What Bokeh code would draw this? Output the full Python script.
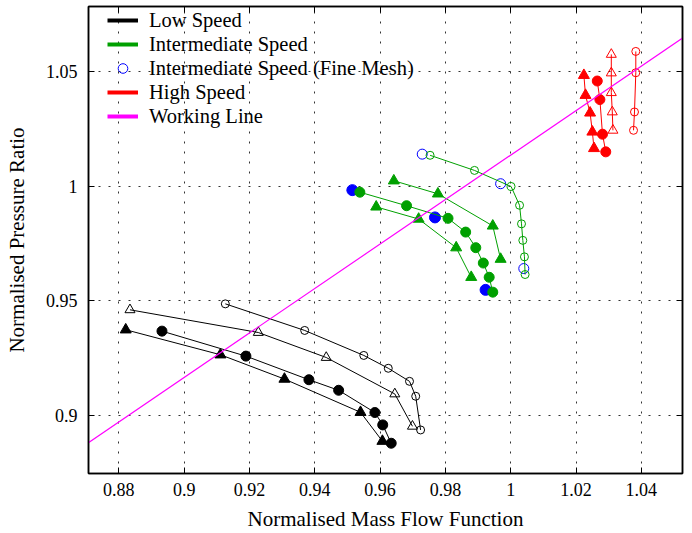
from bokeh.plotting import figure
from bokeh.models import (LinearAxis, FixedTicker, CustomJSTickFormatter, Legend, LegendItem, Range1d)
from bokeh.embed import file_html
from bokeh.resources import INLINE

# ---------------- data ----------------
x_ticks = [0.88, 0.90, 0.92, 0.94, 0.96, 0.98, 1.00, 1.02, 1.04]
y_ticks = [0.90, 0.95, 1.00, 1.05]

# Low speed (black)
low_open_tri_x = [0.8834, 0.9227, 0.9435, 0.9645, 0.9699]
low_open_tri_y = [0.9460, 0.9361, 0.9252, 0.9093, 0.8952]
low_open_circ_x = [0.9126, 0.9369, 0.9550, 0.9625, 0.9690, 0.9709, 0.9724]
low_open_circ_y = [0.9486, 0.9370, 0.9261, 0.9205, 0.9148, 0.9083, 0.8936]
low_tri_x = [0.8821, 0.9111, 0.9307, 0.9540, 0.9607]
low_tri_y = [0.9373, 0.9264, 0.9158, 0.9013, 0.8887]
low_circ_x = [0.8932, 0.9189, 0.9382, 0.9473, 0.9584, 0.9608, 0.9634]
low_circ_y = [0.9367, 0.9258, 0.9155, 0.9109, 0.9012, 0.8958, 0.8878]

# Intermediate speed (green)
mid_open_circ_x = [0.9753, 0.9889, 1.0001, 1.0027, 1.0033, 1.0037, 1.0042, 1.0044]
mid_open_circ_y = [1.0134, 1.0068, 0.9998, 0.9916, 0.9835, 0.9763, 0.9691, 0.9614]
mid_tri_up_x = [0.9642, 0.9777, 0.9945, 0.9969]
mid_tri_up_y = [1.0023, 0.9966, 0.9826, 0.9681]
mid_circ_x = [0.9538, 0.9681, 0.9808, 0.9862, 0.9893, 0.9916, 0.9934, 0.9945]
mid_circ_y = [0.9973, 0.9914, 0.9859, 0.9799, 0.9731, 0.9664, 0.9602, 0.9537]
mid_tri_lo_x = [0.9588, 0.9718, 0.9833, 0.9879]
mid_tri_lo_y = [0.9909, 0.9856, 0.9731, 0.9602]

# Intermediate speed, fine mesh (blue)
fine_open_x = [0.9729, 0.9969, 1.0040]
fine_open_y = [1.0139, 1.0010, 0.9640]
fine_fill_x = [0.9515, 0.9768, 0.9923]
fine_fill_y = [0.9982, 0.9863, 0.9547]

# High speed (red)
high_open_circ_x = [1.0383, 1.0383, 1.0379, 1.0376]
high_open_circ_y = [1.0587, 1.0494, 1.0323, 1.0243]
high_open_tri_x = [1.0308, 1.0308, 1.0308, 1.0311, 1.0313]
high_open_tri_y = [1.0574, 1.0493, 1.0407, 1.0323, 1.0243]
high_tri_x = [1.0224, 1.0229, 1.0243, 1.0250, 1.0255]
high_tri_y = [1.0483, 1.0396, 1.0319, 1.0236, 1.0164]
high_circ_x = [1.0265, 1.0273, 1.0281, 1.0291]
high_circ_y = [1.0458, 1.0377, 1.0226, 1.0149]

# Working line (magenta)
wl_x = [0.86, 1.06]
wl_y = [0.8777, 1.0717]

legend_labels = ["Low Speed", "Intermediate Speed", "Intermediate Speed (Fine Mesh)",
                 "High Speed", "Working Line"]

# ---------------- style ----------------
BLACK = "#000000"
GREEN = "#00a000"
BLUE = "#0000ff"
RED = "#ff0000"
MAGENTA = "#ff00ff"
FONT = "Liberation Serif"
NAN = float("nan")

p = figure(width=692, height=533, output_backend="svg", toolbar_location=None,
           x_range=Range1d(0.8707, 1.0526), y_range=Range1d(0.8746, 1.0783),
           min_border_left=88, min_border_right=10, min_border_top=6, min_border_bottom=59,
           background_fill_color="white", border_fill_color="white")
p.outline_line_color = BLACK
p.outline_line_width = 1.5
p.outline_line_alpha = 1

fmt = CustomJSTickFormatter(code="return String(Math.round(tick*1000)/1000);")
blank = CustomJSTickFormatter(code="return '';")

for ax, ticks in ((p.xaxis[0], x_ticks), (p.yaxis[0], y_ticks)):
    ax.ticker = FixedTicker(ticks=ticks)
    ax.formatter = fmt
    ax.major_tick_in = 6
    ax.major_tick_out = 0
    ax.minor_tick_in = 0
    ax.minor_tick_out = 0
    ax.axis_line_color = BLACK
    ax.axis_line_width = 1.5
    ax.major_tick_line_color = BLACK
    ax.major_label_text_font = FONT
    ax.major_label_text_font_size = "18px"
    ax.major_label_text_color = BLACK
    ax.axis_label_text_font = FONT
    ax.axis_label_text_font_size = "21px"
    ax.axis_label_text_font_style = "normal"
    ax.axis_label_text_color = BLACK

p.xaxis[0].axis_label = "Normalised Mass Flow Function"
p.yaxis[0].axis_label = "Normalised Pressure Ratio"
p.xaxis[0].major_label_standoff = 9
p.xaxis[0].axis_label_standoff = 8
p.yaxis[0].major_label_standoff = 11
p.yaxis[0].axis_label_standoff = 14

for place, ticks in (("above", x_ticks), ("right", y_ticks)):
    ax = LinearAxis(ticker=FixedTicker(ticks=ticks), formatter=blank,
                    major_tick_in=6, major_tick_out=0, minor_tick_in=0, minor_tick_out=0,
                    major_label_standoff=0, major_label_text_font_size="0px",
                    axis_line_color=BLACK, axis_line_width=1.5, major_tick_line_color=BLACK)
    p.add_layout(ax, place)

p.xgrid.ticker = FixedTicker(ticks=x_ticks)
p.ygrid.ticker = FixedTicker(ticks=y_ticks)
for g in (p.xgrid[0], p.ygrid[0]):
    g.grid_line_color = BLACK
    g.grid_line_alpha = 0.8
    g.grid_line_dash = "2 8"
    g.grid_line_width = 1

# ---------------- series ----------------
def series(xs, ys, color, marker, filled, size):
    p.line(xs, ys, line_color=color, line_width=1)
    p.scatter(xs, ys, marker=marker, size=size, line_color=color, line_width=1,
              fill_color=color if filled else None)

# Low speed
series(low_open_tri_x, low_open_tri_y, BLACK, "triangle", False, 10)
series(low_open_circ_x, low_open_circ_y, BLACK, "circle", False, 8)
series(low_tri_x, low_tri_y, BLACK, "triangle", True, 11)
series(low_circ_x, low_circ_y, BLACK, "circle", True, 10)

# Fine mesh (under green)
p.scatter(fine_open_x, fine_open_y, marker="circle", size=10, line_color=BLUE, line_width=1, fill_color=None)
p.scatter(fine_fill_x, fine_fill_y, marker="circle", size=11, line_color=BLUE, line_width=1, fill_color=BLUE)

# Intermediate speed
series(mid_open_circ_x, mid_open_circ_y, GREEN, "circle", False, 8)
series(mid_tri_up_x, mid_tri_up_y, GREEN, "triangle", True, 11)
series(mid_circ_x, mid_circ_y, GREEN, "circle", True, 10)
series(mid_tri_lo_x, mid_tri_lo_y, GREEN, "triangle", True, 11)

# High speed
series(high_open_circ_x, high_open_circ_y, RED, "circle", False, 8)
series(high_open_tri_x, high_open_tri_y, RED, "triangle", False, 10)
series(high_tri_x, high_tri_y, RED, "triangle", True, 11)
series(high_circ_x, high_circ_y, RED, "circle", True, 10)

# Working line
p.line(wl_x, wl_y, line_color=MAGENTA, line_width=1.2)

# ---------------- legend ----------------
lg_low = p.line([NAN], [NAN], line_color=BLACK, line_width=4)
lg_mid = p.line([NAN], [NAN], line_color=GREEN, line_width=4)
lg_fine = p.scatter([NAN], [NAN], marker="circle", size=9, line_color=BLUE, line_width=1, fill_color=None)
lg_high = p.line([NAN], [NAN], line_color=RED, line_width=4)
lg_wl = p.line([NAN], [NAN], line_color=MAGENTA, line_width=4)

items = [LegendItem(label=lab, renderers=[r]) for lab, r in
         zip(legend_labels, [lg_low, lg_mid, lg_fine, lg_high, lg_wl])]
legend = Legend(items=items, location=(19, 345), orientation="vertical",
                glyph_width=31, glyph_height=24, label_height=24, label_standoff=11,
                spacing=0, padding=0, margin=0,
                border_line_color=None, background_fill_alpha=0,
                label_text_font=FONT, label_text_font_size="20.5px", label_text_color=BLACK)
p.add_layout(legend)

open("out.html", "w").write(file_html(p, INLINE))
